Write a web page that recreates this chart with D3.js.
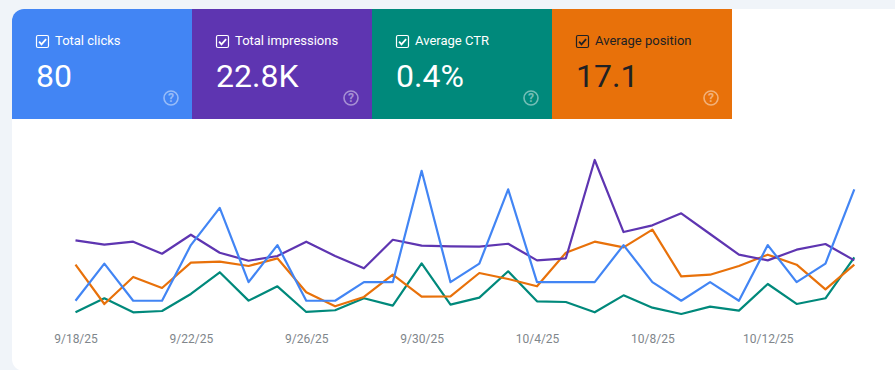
<!DOCTYPE html>
<html>
<head>
<meta charset="utf-8">
<script src="https://cdn.jsdelivr.net/npm/d3@7"></script>
<style>
html,body{margin:0;padding:0;background:#f0f4f9;overflow:hidden}
svg{display:block;font-family:Roboto,sans-serif}
</style>
</head>
<body>
<div id="chart"></div>
<script>
const tickLabels = ["9/18/25","9/22/25","9/26/25","9/30/25","10/4/25","10/8/25","10/12/25"];
const tickIndexes = [0,4,8,12,16,20,24];
const metricNames = ["Total clicks","Total impressions","Average CTR","Average position"];
const metricTotals = ["80","22.8K","0.4%","17.1"];
const metricColors = ["#4285f4","#5e35b1","#00897b","#e8710a"];
const metricText = ["#ffffff","#ffffff","#ffffff","#202124"];

const clicks = [1,3,1,1,4,6,2,4,1,1,2,2,8,2,3,7,2,2,2,4,2,1,2,1,4,2,3,7];
const impressions = [851,804,836,706,911,717,631,682,836,682,549,857,793,786,782,814,635,657,1716,940,1012,1142,919,696,635,750,811,635];
const ctr = [0.124,0.373,0.124,0.147,0.449,0.834,0.331,0.585,0.13,0.16,0.373,0.242,0.993,0.26,0.384,0.851,0.319,0.307,0.124,0.425,0.206,0.094,0.224,0.153,0.626,0.272,0.373,1.1];
const position = [16.01,21.16,17.62,19.06,15.75,15.62,16.18,15.18,19.63,21.46,20.24,17.32,20.2,20.15,17.1,17.88,18.84,14.44,13.0,13.74,11.43,17.54,17.32,16.18,14.7,16.01,19.24,16.01];

const W = 895, H = 370;
const svg = d3.select("#chart").append("svg").attr("width",W).attr("height",H);

// white panel with rounded left corners
svg.append("rect").attr("x",12).attr("y",9).attr("width",W+20).attr("height",H-9+1).attr("rx",12).attr("fill","#fff");

// metric tiles
const tileX = d3.scaleBand().domain(d3.range(4)).range([12,732]);
const tile = svg.selectAll("g.tile").data(metricNames).join("g").attr("class","tile")
  .attr("transform",(d,i)=>`translate(${tileX(i)},9)`);
const tilePath = (w,h,r)=>`M0,${h}V${r}A${r},${r} 0 0 1 ${r},0H${w}V${h}Z`;
tile.append("path").attr("d",(d,i)=> i===0 ? tilePath(tileX.bandwidth(),110,12)
    : `M0,0H${tileX.bandwidth()}V110H0Z`).attr("fill",(d,i)=>metricColors[i]);
const box = tile.append("g").attr("transform","translate(24.5,26.5)")
  .attr("fill","none").attr("stroke",(d,i)=>metricText[i]);
box.append("rect").attr("width",12).attr("height",12).attr("rx",1.5).attr("stroke-width",1.2);
box.append("path").attr("d","M2.6,6.2L5,8.8L9.6,3.6").attr("stroke-width",1.8);
tile.append("text").attr("x",43).attr("y",36).attr("font-size",13).attr("font-weight",400)
  .attr("fill",(d,i)=>metricText[i]).text(d=>d);
tile.append("text").attr("x",24).attr("y",78).attr("font-size",32).attr("font-weight",400)
  .attr("fill",(d,i)=>metricText[i]).text((d,i)=>metricTotals[i]);
const help = tile.append("g").attr("transform",`translate(159,89)`).attr("opacity",0.45);
help.append("circle").attr("r",7).attr("fill","none").attr("stroke","#fff").attr("stroke-width",1.6);
help.append("text").attr("text-anchor","middle").attr("y",4.2).attr("font-size",12).attr("font-weight",700).attr("fill","#fff").text("?");

// chart
const x = d3.scaleLinear().domain([0,27]).range([75.5,854.3]);
const baseY = 319.3;
const yClicks = d3.scaleLinear().domain([0,8]).range([baseY,170.8]);
const yImpr = d3.scaleLinear().domain([0,1716]).range([baseY,160]);
const yCtr = d3.scaleLinear().domain([0,1]).range([baseY,262.9]);
const yPos = d3.scaleLinear().domain([1,31]).range([150,379.2]);

const series = [
  {v:ctr,y:yCtr,c:metricColors[2]},
  {v:position,y:yPos,c:metricColors[3]},
  {v:impressions,y:yImpr,c:metricColors[1]},
  {v:clicks,y:yClicks,c:metricColors[0]}
];
svg.selectAll("path.line").data(series).join("path").attr("class","line")
  .attr("fill","none").attr("stroke",d=>d.c).attr("stroke-width",2.2).attr("stroke-linejoin","round")
  .attr("d",s=>d3.line().x((d,i)=>x(i)).y(d=>s.y(d))(s.v));

// x axis labels
const axis = d3.axisBottom(x).tickValues(tickIndexes).tickSize(0)
  .tickFormat((d,i)=>tickLabels[i]);
const ax = svg.append("g").attr("transform","translate(0,331)").call(axis);
ax.select(".domain").remove();
ax.selectAll("text").attr("font-family","Roboto,sans-serif").attr("font-size",12).attr("fill","#80868b").attr("dy","0.71em").attr("y",3);
</script>
</body>
</html>
